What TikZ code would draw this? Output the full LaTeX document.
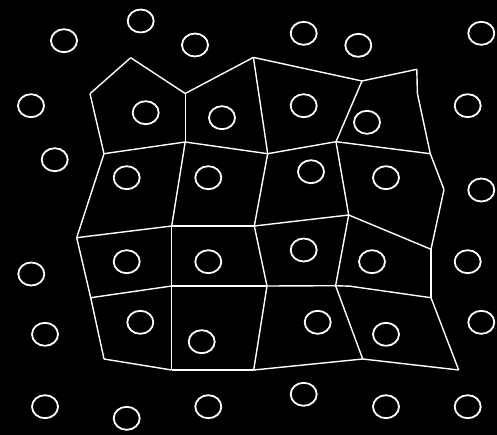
\documentclass[tikz,border=0pt]{standalone}
\usetikzlibrary{shapes.geometric}
\begin{document}
\begin{tikzpicture}[x=0.2mm,y=-0.2mm,
  site/.style={draw=white,ellipse,line width=0.36mm,minimum width=5.2mm,minimum height=4.6mm,inner sep=0pt},
  edge/.style={draw=white,line width=0.28mm,line join=round}]
\fill[black] (0,0) rectangle (497,435);
\useasboundingbox (0,0) rectangle (497,435);
% sites
\foreach \n/\x/\y in {c1/140.7/21, c2/64/40.7, c3/195/45, c4/31/105.7, c5/145.7/112.7, c6/222/117.7,
  c7/54.7/159.7, c8/126.7/177.7, c9/208.3/177.7, c10/303.7/33.3, c11/358.3/45.3, c12/481.3/33.3,
  c13/303.7/105.7, c14/367/122.3, c15/467.7/105.7, c16/311/171.7, c17/386/177.7, c18/481.3/190,
  c19/126.7/261.7, c20/208.3/261.7, c21/31.3/274, c22/140.3/322.3, c23/45/334.3, c24/201.7/341.7,
  c25/45/406.7, c26/126.7/418.3, c27/208.3/406.7, c28/303.7/250, c29/372/261.7, c30/467.7/261.7,
  c31/317.7/322.3, c32/386/334.3, c33/481.3/322.3, c34/303.7/394.3, c35/386/406.7, c36/467.7/406.7}
  {\node[site] (\n) at (\x,\y) {};}
% vertices
\coordinate (A) at (130.7,57.7);
\coordinate (B) at (90,93.7);
\coordinate (C) at (185.2,93.5);
\coordinate (D) at (104,153.7);
\coordinate (E) at (185.2,142);
\coordinate (F) at (253.4,57.4);
\coordinate (G) at (267.7,153.7);
\coordinate (J) at (362,81);
\coordinate (K) at (416.8,69.3);
\coordinate (L) at (417.4,93.5);
\coordinate (M) at (430.3,153.7);
\coordinate (N) at (336,141.7);
\coordinate (O) at (444,189.5);
\coordinate (P) at (431,249.3);
\coordinate (H) at (76.7,237.7);
\coordinate (I) at (171.7,226);
\coordinate (Q) at (254.3,226);
\coordinate (R) at (348.7,215);
\coordinate (U) at (90.7,297.7);
\coordinate (S) at (171.7,286);
\coordinate (V) at (267,286);
\coordinate (Y) at (335.6,285.7);
\coordinate (Y2) at (350,286.2);
\coordinate (Z) at (431,297.7);
\coordinate (W) at (104,359);
\coordinate (T) at (171.7,370);
\coordinate (X) at (253.7,370);
\coordinate (AB) at (362.7,359);
\coordinate (AA) at (458.7,370);
% edges
\foreach \a/\b in {A/B, A/C, B/D, C/E, D/E, C/F, E/G, D/H, E/I, F/G, F/J, J/K, K/L, L/M, J/N, G/N,
  N/M, M/O, O/P, N/R, G/Q, H/I, I/Q, Q/R, R/P, H/U, I/S, U/S, S/V, Q/V, R/Y, V/Y, Y/Y2, Y2/Z, P/Z,
  U/W, S/T, W/T, T/X, X/V, X/AB, AB/Y, AB/AA, Z/AA}
  {\draw[edge] (\a) -- (\b);}
\end{tikzpicture}
\end{document}
